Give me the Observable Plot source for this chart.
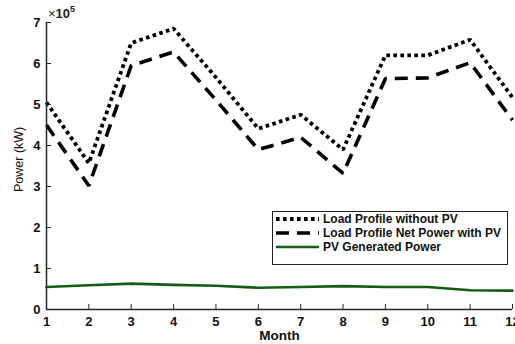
<!DOCTYPE html>
<html><head><meta charset="utf-8">
<script src="https://cdn.jsdelivr.net/npm/d3@7"></script>
<script src="https://cdn.jsdelivr.net/npm/@observablehq/plot@0.6"></script>
<style>
html,body{margin:0;padding:0;overflow:hidden;background:#fff}
#wrap{position:relative;width:515px;height:344px;font-family:"Liberation Sans",Arial,sans-serif}
#legend{position:absolute;left:272px;top:211px;width:236px;height:54px;border:1.5px solid #222;background:#fff;box-sizing:border-box;padding:0 0 0 3px}
#legend .row{display:flex;align-items:center;height:14px;font-size:12px;font-weight:bold;color:#111;white-space:nowrap;margin-top:0}
#legend .row:first-child{margin-top:-0.5px}
#legend svg{margin-right:4px}
#expo{position:absolute;left:48px;top:5px;font-size:13px;font-weight:bold;color:#222}
</style></head>
<body><div id="wrap"></div>
<script>
const months = [1,2,3,4,5,6,7,8,9,10,11,12];
const loadWithoutPV = [505000,357000,650000,685000,566000,441000,475000,390000,620000,620000,658000,517000];
const loadNetWithPV = [450000,302000,595000,628000,511000,390000,420000,332000,563000,565000,602000,462000];
const pvGenerated = [55000,59000,63000,60000,58000,53000,55000,57000,55000,55000,47000,46000];
const seriesNames = ["Load Profile without PV","Load Profile Net Power with PV","PV Generated Power"];
const yTicks = [0,100000,200000,300000,400000,500000,600000,700000];

const rows = (vals) => months.map((m,i)=>({month:m, value:vals[i]}));
const axisColor = "#262626";

const plot = Plot.plot({
  width: 515, height: 344,
  marginLeft: 46, marginTop: 22, marginBottom: 35, marginRight: 3,
  style: {fontFamily: "'Liberation Sans', Arial, sans-serif", background: "#fff", overflow: "hidden"},
  x: {domain: [1,12]},
  y: {domain: [0,700000]},
  marks: [
    Plot.line(rows(pvGenerated), {x:"month", y:"value", stroke:"#145c14", strokeWidth:2.6, curve:"linear"}),
    Plot.line(rows(loadNetWithPV), {x:"month", y:"value", stroke:"#000", strokeWidth:3.6, strokeDasharray:"13,8", strokeLinecap:"butt", strokeLinejoin:"miter"}),
    Plot.line(rows(loadWithoutPV), {x:"month", y:"value", stroke:"#000", strokeWidth:3.8, strokeDasharray:"3.6,3.4", strokeLinecap:"butt", strokeLinejoin:"miter"}),
    Plot.axisX({ticks: months, tickSize: -5, tickPadding: 12, tickFormat: d=>String(d), fontSize: 13, fontWeight: "bold", stroke: axisColor, color: "#111", label: null}),
    Plot.axisY({ticks: yTicks, tickSize: -5, tickPadding: 11, tickFormat: d=>String(d/100000), fontSize: 13, fontWeight: "bold", stroke: axisColor, color: "#111", label: null}),
    Plot.ruleX([1], {stroke: axisColor, strokeWidth: 1.5}),
    Plot.ruleY([0], {stroke: axisColor, strokeWidth: 1.5}),
    Plot.text(["Month"], {frameAnchor: "bottom", dy: 30, fontSize: 13.5, fontWeight: "bold", fill: "#111"}),
    Plot.text(["Power (kW)"], {frameAnchor: "left", dx: -28, dy: 26, rotate: -90, fontSize: 12.5, fill: "#111"})
  ]
});
const wrap = document.getElementById("wrap");
wrap.appendChild(plot);

const expo = document.createElement("div");
expo.id = "expo";
expo.innerHTML = '<span style="font-weight:normal">\u00d7</span>10<sup style="font-size:9px;position:relative;top:-1px">5</sup>';
wrap.appendChild(expo);

const styles = [
  {stroke:"#000", w:3.8, dash:"3.6,3.4"},
  {stroke:"#000", w:3.6, dash:"13,8"},
  {stroke:"#145c14", w:2.6, dash:null}
];
const legend = document.createElement("div");
legend.id = "legend";
seriesNames.forEach((name,i)=>{
  const row = document.createElement("div");
  row.className = "row";
  const s = styles[i];
  row.innerHTML = `<svg width="43" height="8"><line x1="0" y1="4" x2="43" y2="4" stroke="${s.stroke}" stroke-width="${s.w}" ${s.dash?`stroke-dasharray="${s.dash}"`:""}/></svg><span>${name}</span>`;
  legend.appendChild(row);
});
wrap.appendChild(legend);
</script></body></html>
